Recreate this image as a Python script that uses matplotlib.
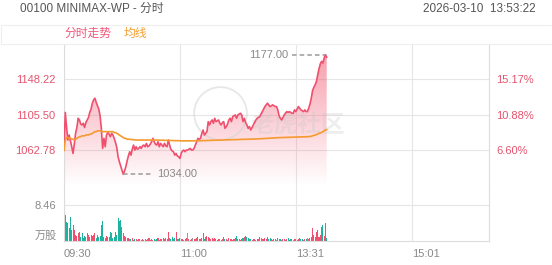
import matplotlib.pyplot as plt
import numpy as np
from matplotlib.colors import to_rgb
from matplotlib.patches import Rectangle

plt.rcParams['font.family'] = ['Liberation Sans', 'Noto Sans CJK SC']

title = '00100 MINIMAX-WP - 分时'
stamp = '2026-03-10  13:53:22'
time_labels = ['09:30', '11:00', '13:31', '15:01']
time_ticks = [0, 90, 180, 270]
session_len = 330
price_ticks = [1062.78, 1105.50, 1148.22]
pct_labels = ['6.60%', '10.88%', '15.17%']
vol_tick = 8.46

# one value per minute from 09:30
price = [
    1062.78, 1108, 1090, 1075, 1081, 1074, 1067, 1059, 1070, 1083,
    1090, 1101, 1099, 1094, 1093, 1095, 1090, 1096, 1099, 1102,
    1108, 1112, 1119, 1123, 1125, 1120, 1116, 1112, 1104, 1089,
    1065, 1077, 1067, 1081, 1084, 1082, 1079, 1083, 1081, 1077,
    1072, 1066, 1055, 1049, 1044, 1039, 1034, 1038, 1043, 1050,
    1056, 1061, 1057, 1064, 1069, 1063, 1067, 1064, 1065, 1067,
    1065, 1068, 1069, 1067, 1071, 1067, 1068, 1070, 1073, 1077,
    1073, 1070, 1069, 1073, 1067, 1071, 1069, 1067, 1071, 1068,
    1067, 1075, 1069, 1064, 1062, 1061, 1057, 1059, 1056, 1055,
    1053, 1059, 1062, 1063, 1061, 1063, 1063, 1064, 1065, 1063,
    1063, 1065, 1069, 1073, 1077, 1076, 1077, 1083, 1087, 1081,
    1083, 1085, 1097, 1093, 1097, 1099, 1095, 1101, 1097, 1098,
    1099, 1095, 1093, 1096, 1097, 1089, 1091, 1094, 1099, 1101,
    1097, 1103, 1104, 1105, 1101, 1105, 1106, 1107, 1105, 1097,
    1101, 1096, 1093, 1089, 1091, 1087, 1090, 1093, 1096, 1099,
    1101, 1102, 1103, 1106, 1109, 1112, 1115, 1117, 1119, 1117,
    1115, 1116, 1117, 1116, 1115, 1115, 1111, 1104, 1101, 1099,
    1102, 1105, 1107, 1109, 1108, 1109, 1108, 1107, 1107, 1111,
    1109, 1112, 1115, 1113, 1111, 1110, 1109, 1111, 1109, 1109,
    1113, 1118, 1125, 1134, 1138, 1141, 1145, 1153, 1160, 1166,
    1169, 1167, 1173, 1177, 1174,
]

avg = [
    1062.78, 1075, 1078, 1078, 1077, 1077, 1076, 1076, 1075, 1076,
    1077, 1078, 1079, 1079, 1080, 1080, 1080, 1081, 1081, 1081,
    1082, 1082, 1083, 1084, 1085, 1085, 1086, 1086, 1086, 1086,
    1085, 1085, 1085, 1085, 1085, 1085, 1085, 1085, 1085, 1084,
    1084, 1083, 1082, 1081, 1080, 1079, 1078, 1077, 1077, 1076,
    1076, 1076, 1075.5, 1075.5, 1075.5, 1075, 1075, 1075, 1075, 1075,
    1075, 1075, 1075, 1075, 1075, 1075, 1075, 1075, 1075, 1075,
    1075, 1075, 1075, 1075, 1074.8, 1074.8, 1074.8, 1074.8, 1074.6, 1074.6,
    1074.6, 1074.6, 1074.5, 1074.5, 1074.4, 1074.4, 1074.3, 1074.3, 1074.2, 1074.2,
    1074.1, 1074.1, 1074, 1074, 1074, 1074, 1074, 1074, 1074, 1074,
    1074, 1074, 1074, 1074.1, 1074.1, 1074.2, 1074.2, 1074.3, 1074.3, 1074.4,
    1074.4, 1074.5, 1074.5, 1074.6, 1074.6, 1074.7, 1074.7, 1074.8, 1074.8, 1074.9,
    1074.9, 1075, 1075, 1075, 1075.1, 1075.1, 1075.2, 1075.2, 1075.3, 1075.3,
    1075.4, 1075.4, 1075.5, 1075.5, 1075.6, 1075.6, 1075.7, 1075.7, 1075.8, 1075.8,
    1075.9, 1075.9, 1076, 1076, 1076, 1076.1, 1076.1, 1076.2, 1076.2, 1076.3,
    1076.3, 1076.4, 1076.5, 1076.6, 1076.7, 1076.8, 1076.9, 1077, 1077.1, 1077.2,
    1077.3, 1077.4, 1077.5, 1077.6, 1077.7, 1077.8, 1077.8, 1077.9, 1077.9, 1078,
    1078, 1078.1, 1078.1, 1078.2, 1078.2, 1078.3, 1078.3, 1078.4, 1078.4, 1078.5,
    1078.5, 1078.6, 1078.6, 1078.7, 1078.7, 1078.8, 1078.8, 1078.9, 1078.9, 1079,
    1079, 1079.2, 1079.5, 1080, 1080.5, 1081, 1081.5, 1082, 1083, 1083.5,
    1084, 1085, 1086, 1087, 1087.5,
]

# 万股 per minute
volume = [
    12.2, 6.0, 4.5, 4.2, 3.0, 5.7, 2.5, 3.8, 2.6, 1.5,
    1.2, 1.8, 2.2, 1.0, 1.9, 0.8, 1.2, 1.0, 1.9, 1.3,
    1.0, 1.5, 1.2, 1.4, 1.9, 0.8, 1.5, 1.0, 1.2, 3.8,
    4.6, 1.0, 0.8, 1.2, 0.9, 1.0, 2.2, 1.9, 0.7, 1.0,
    2.2, 1.5, 5.3, 4.6, 4.9, 3.3, 1.9, 1.2, 1.0, 0.6,
    0.8, 0.5, 0.4, 0.6, 0.3, 0.5, 0.4, 0.3, 0.4, 0.5,
    0.3, 0.4, 0.2, 0.5, 0.3, 0.4, 0.6, 0.3, 0.4, 0.3,
    0.5, 0.3, 0.4, 0.6, 0.3, 0.4, 0.5, 0.7, 0.4, 0.6,
    0.5, 2.2, 0.8, 0.5, 0.9, 0.4, 0.6, 2.2, 0.5, 0.4,
    0.6, 0.4, 0.5, 0.3, 0.4, 0.6, 1.9, 0.5, 0.3, 0.4,
    0.8, 0.4, 0.5, 0.6, 1.0, 0.4, 0.5, 0.7, 1.9, 0.5,
    1.0, 1.2, 1.0, 0.8, 0.5, 0.6, 0.4, 0.7, 0.5, 0.3,
    0.4, 0.5, 0.3, 0.4, 1.0, 0.5, 0.4, 0.3, 0.6, 0.4,
    0.5, 0.3, 0.4, 0.6, 1.2, 0.5, 0.4, 0.3, 0.5, 0.8,
    1.0, 1.2, 1.0, 0.8, 0.5, 0.4, 0.3, 0.5, 0.4, 0.3,
    0.5, 0.4, 1.0, 0.6, 0.4, 0.5, 0.6, 0.4, 1.0, 0.5,
    0.7, 0.4, 0.3, 0.5, 0.4, 0.3, 0.6, 0.5, 0.4, 0.3,
    0.5, 0.4, 0.3, 0.4, 0.6, 0.3, 0.4, 0.5, 0.3, 0.4,
    0.5, 0.3, 0.4, 0.6, 0.5, 0.4, 0.3, 0.5, 0.4, 0.6,
    0.5, 0.8, 1.0, 3.0, 1.5, 1.0, 2.2, 2.6, 1.0, 1.5,
    3.4, 3.8, 1.2, 4.2, 0.8,
]

RED = '#f0506e'
TEAL = '#1db39e'
ORANGE = '#f59a2f'
GRID = '#e6e6e6'
EDGE = '#dcdcdc'
GRAY = '#8a8a8a'

W, H = 552, 265
fig = plt.figure(figsize=(W / 100, H / 100), dpi=100)


def box(x0, y0, x1, y1):
    # pixel box (top-left origin) -> figure fractions
    return [x0 / W, 1 - y1 / H, (x1 - x0) / W, (y1 - y0) / H]


ax = fig.add_axes(box(64, 45, 489, 186))
axv = fig.add_axes(box(64, 186, 489, 241))

x = np.arange(len(price))
p = np.array(price)
step = price_ticks[1] - price_ticks[0]
ylo = price_ticks[0] - step
yhi = price_ticks[-1] + step * 0.945

# gradient fill under the price line
fill = ax.fill_between(x, p, ylo, color='none', lw=0)
grad = np.zeros((256, 1, 4))
grad[..., :3] = to_rgb('#f25a72')
grad[..., 3] = np.linspace(0.58, 0.0, 256)[:, None]
img = ax.imshow(grad, extent=[0, x[-1], ylo, p.max()], aspect='auto',
                origin='upper', zorder=1, interpolation='bilinear')
img.set_clip_path(fill.get_paths()[0], transform=ax.transData)

ax.plot(x, p, color=RED, lw=1.2, zorder=3)
ax.plot(x, avg, color=ORANGE, lw=1.2, zorder=4)

ax.set_xlim(0, session_len)
ax.set_ylim(ylo, yhi)
ax.set_yticks(price_ticks)
ax.set_yticklabels([f'{v:.2f}' for v in price_ticks], color='#e4546e', fontsize=8)
ax.set_xticks(time_ticks)
ax.tick_params(axis='both', length=0, pad=6)
ax.tick_params(axis='x', labelbottom=False)
ax.grid(True, color=GRID, lw=0.8)
ax.set_axisbelow(True)
for s in ['top', 'bottom']:
    ax.spines[s].set_visible(False)
for s in ['left', 'right']:
    ax.spines[s].set_color(EDGE)

axr = ax.twinx()
axr.set_ylim(ylo, yhi)
axr.set_yticks(price_ticks)
axr.set_yticklabels(pct_labels, color='#e4546e', fontsize=8)
axr.tick_params(length=0, pad=5)
for s in axr.spines.values():
    s.set_visible(False)

# high / low markers
hi = int(np.argmax(p))
lo = int(np.argmin(p))
ax.plot([hi - 26, hi], [p[hi], p[hi]], color='#9a9a9a', lw=1.1, ls=(0, (3, 2)), zorder=5)
ax.annotate(f'{p[hi]:.2f}', (hi - 26, p[hi]), xytext=(-3, 0), textcoords='offset points',
            ha='right', va='center', fontsize=8, color=GRAY)
ax.plot([lo, lo + 22], [p[lo], p[lo]], color='#9a9a9a', lw=1.1, ls=(0, (3, 2)), zorder=5)
ax.annotate(f'{p[lo]:.2f}', (lo + 22, p[lo]), xytext=(4, 0), textcoords='offset points',
            ha='left', va='center', fontsize=8, color=GRAY)

# faint watermark
ax.plot([0.367], [0.52], transform=ax.transAxes, marker='o', ms=38, mfc='none',
        mec='#d0d0d0', mew=1.3, alpha=0.5, zorder=2)
ax.text(0.44, 0.38, '老虎社区', transform=ax.transAxes, fontsize=17, color='#c8c8c8',
        alpha=0.3, fontweight='bold', zorder=2)

# volume bars
d = np.diff(p, prepend=997.0)
bar_colors = [RED if v > 0 else (TEAL if v < 0 else '#9a9a9a') for v in d]
axv.bar(x, volume, width=0.8, color=bar_colors, lw=0)
axv.set_xlim(0, session_len)
axv.set_ylim(0, vol_tick * 55 / 36)
axv.set_yticks([vol_tick])
axv.set_yticklabels([f'{vol_tick:.2f}'], color=GRAY, fontsize=8)
axv.set_xticks(time_ticks)
axv.set_xticklabels(time_labels, color=GRAY, fontsize=8)
for t in axv.get_xticklabels():
    t.set_ha('left')
axv.tick_params(axis='both', length=0, pad=6)
axv.grid(True, color=GRID, lw=0.8)
axv.set_axisbelow(True)
axv.spines['top'].set_visible(False)
for s in ['left', 'right', 'bottom']:
    axv.spines[s].set_color(EDGE)
axv.text(-0.016, 0.1, '万股', transform=axv.transAxes, ha='right', va='center',
         fontsize=8, color=GRAY)

# header
fig.text(20 / W, 1 - 9 / H, title, fontsize=8.5, color='#555555', va='center', ha='left')
fig.text(536 / W, 1 - 9 / H, stamp, fontsize=8.5, color='#555555', va='center', ha='right')
fig.patches.append(Rectangle((0.5 / W, 1 - 44 / H), 551 / W, 19 / H, transform=fig.transFigure,
                             facecolor='white', edgecolor='#eeeeee', lw=0.8, zorder=0))
fig.text(64 / W, 1 - 34 / H, '分时走势', fontsize=8.5, color='#f0587a', va='center')
fig.text(124 / W, 1 - 34 / H, '均线', fontsize=8.5, color='#f5a033', va='center')

fig.savefig('out.png', dpi=100)
